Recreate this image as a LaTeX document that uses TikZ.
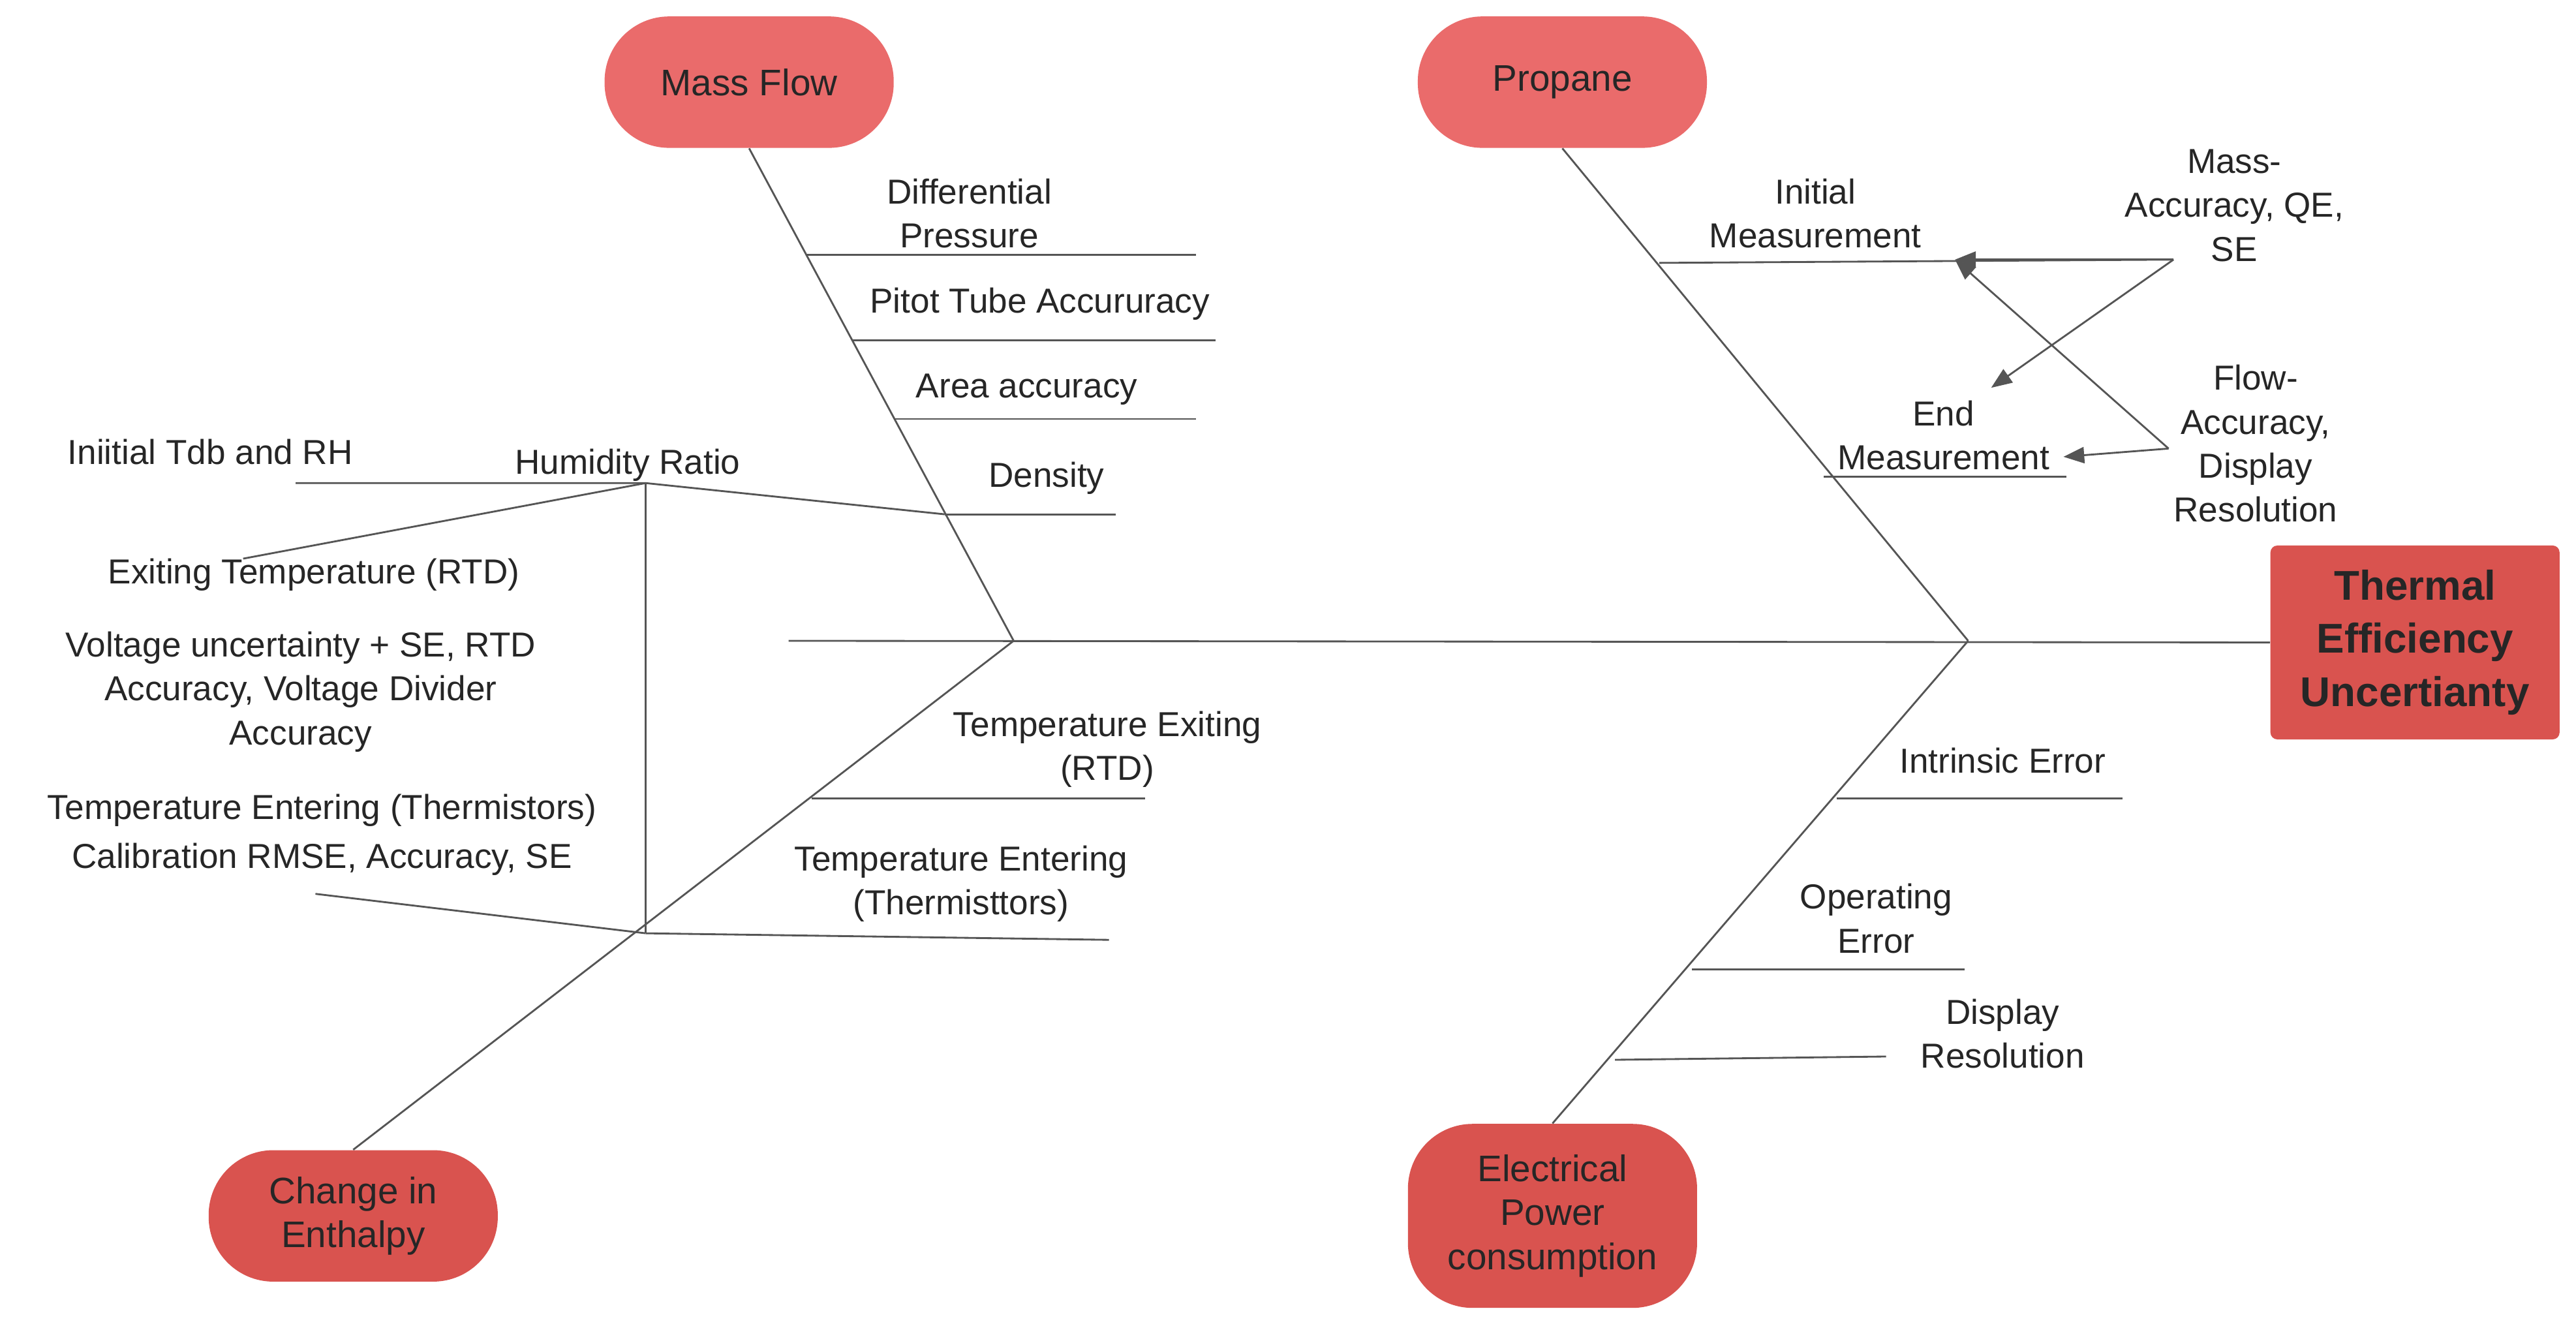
\documentclass[tikz,border=0pt]{standalone}
\usepackage{fontspec}
\setmainfont{Liberation Sans}
\usetikzlibrary{arrows.meta}
\definecolor{headLight}{HTML}{EA6B6B}
\definecolor{headDark}{HTML}{D9534F}
\definecolor{boneGray}{HTML}{555555}
\definecolor{txtGray}{HTML}{262626}
\begin{document}
\begin{tikzpicture}[x=0.025cm,y=-0.025cm,
	bone/.style={draw=boneGray,line width=0.8pt},
	head/.style={rounded corners=28pt,minimum width=176*0.025cm,minimum height=80*0.025cm,align=center,text=txtGray,font=\fontsize{16}{19}\selectfont},
	lbl/.style={align=center,text=txtGray,font=\fontsize{15}{19}\selectfont,inner sep=1pt},
	tip/.style={bone,-{Triangle[length=9pt,width=7pt]}}]
	%
	\useasboundingbox (0,0) rectangle (1568,808);
	%
	% Tetes
	\node[head,fill=headLight] (massflow) at (456,50) {Mass Flow};
	\node[head,fill=headLight] (propane) at (951,50) {Propane};
	\node[head,fill=headDark] (enthalpy) at (215,740) {Change in\\Enthalpy};
	\node[head,fill=headDark,minimum height=112*0.025cm] (power) at (945,740) {Electrical\\Power\\consumption};
	\node[fill=headDark,rounded corners=3pt,minimum width=176*0.025cm,minimum height=118*0.025cm,align=center,text=txtGray,font=\fontsize{18}{23}\selectfont\bfseries] (effect) at (1470,391) {Thermal\\Efficiency\\Uncertianty};
	%
	% Arete principale
	\coordinate (spineA) at (480,390);
	\coordinate (jointL) at (617,390);
	\coordinate (jointR) at (1198,390);
	\draw[bone] (spineA) -- (effect.west);
	\draw[bone] (massflow.south) -- (jointL);
	\draw[bone] (enthalpy.north) -- (jointL);
	\draw[bone] (propane.south) -- (jointR);
	\draw[bone] (power.north) -- (jointR);
	%
	% Mass Flow
	\draw[bone] (491,155) -- (728,155);
	\node[lbl] (diffp) at (590,130) {Differential\\Pressure};
	\draw[bone] (519,207) -- (740,207);
	\node[lbl] (pitot) at (633,185) {Pitot Tube Accururacy};
	\draw[bone] (545,255) -- (728,255);
	\node[lbl] (area) at (625,237) {Area accuracy};
	\draw[bone] (575,313) -- (679,313);
	\node[lbl] (density) at (637,291) {Density};
	%
	% Humidity Ratio
	\coordinate (hrTop) at (393,294);
	\coordinate (hrBot) at (393,568);
	\draw[bone] (180,294) -- (hrTop) -- (575,313);
	\draw[bone] (148,340) -- (hrTop);
	\draw[bone] (hrTop) -- (hrBot);
	\draw[bone] (192,544) -- (hrBot);
	\node[lbl] (humid) at (382,283) {Humidity Ratio};
	\node[lbl] (tdb) at (128,275) {Iniitial Tdb and RH};
	\node[lbl] (exitT) at (191,350) {Exiting Temperature (RTD)};
	\node[lbl] (voltage) at (183,421) {Voltage uncertainty + SE, RTD\\Accuracy, Voltage Divider\\Accuracy};
	\node[lbl] (entT) at (196,493) {Temperature Entering (Thermistors)};
	\node[lbl] (calib) at (196,523) {Calibration RMSE, Accuracy, SE};
	%
	% Change in Enthalpy
	\draw[bone] (494,486) -- (697,486);
	\node[lbl] (texit) at (674,456) {Temperature Exiting\\(RTD)};
	\draw[bone] (hrBot) -- (675,572);
	\node[lbl] (tent) at (585,538) {Temperature Entering\\(Thermisttors)};
	%
	% Propane
	\coordinate (initR) at (1323,158);
	\coordinate (initA) at (1190,158);
	\draw[bone] (1010,160) -- (initR);
	\node[lbl] (initial) at (1105,130) {Initial\\Measurement};
	\draw[bone] (1110,290) -- (1258,290);
	\node[lbl] (endm) at (1183,265) {End\\Measurement};
	\node[lbl] (massacc) at (1360,125) {Mass-\\Accuracy, QE,\\SE};
	\node[lbl] (flowacc) at (1373,270) {Flow-\\Accuracy,\\Display\\Resolution};
	\coordinate (flowL) at (1320,273);
	\draw[tip] (initR) -- (initA);
	\draw[tip] (initR) -- (1212,236);
	\draw[tip] (flowL) -- (1256,278);
	\draw[tip] (flowL) -- (initA);
	%
	% Electrical Power
	\draw[bone] (1118,486) -- (1292,486);
	\node[lbl] (intrinsic) at (1219,463) {Intrinsic Error};
	\draw[bone] (1030,590) -- (1196,590);
	\node[lbl] (operating) at (1142,559) {Operating\\Error};
	\draw[bone] (983,645) -- (1148,643);
	\node[lbl] (display) at (1219,629) {Display\\Resolution};
\end{tikzpicture}
\end{document}
